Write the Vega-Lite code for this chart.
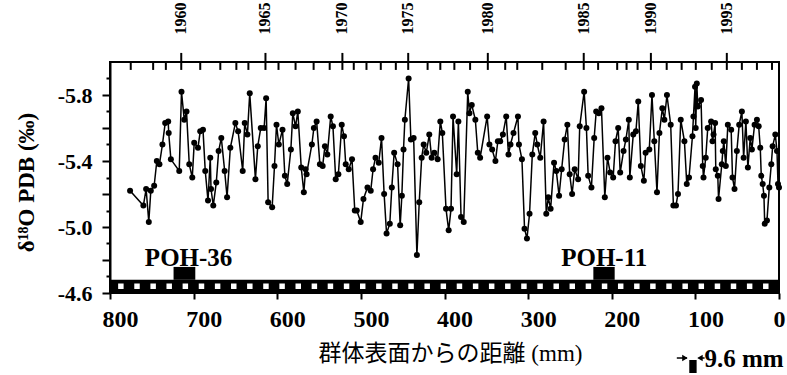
{
  "$schema": "https://vega.github.io/schema/vega-lite/v6.json",
  "width": 669,
  "height": 231,
  "autosize": {"type": "none"},
  "padding": {"left": 110, "top": 62, "right": 8, "bottom": 82},
  "background": "white",
  "config": {"view": {"stroke": "black", "strokeWidth": 2}, "font": "Liberation Serif"},
  "datasets": {
    "iso": [
      {"d": 776.0, "v": -5.22}, {"d": 760.1, "v": -5.13}, {"d": 756.8, "v": -5.23}, {"d": 753.6, "v": -5.03},
      {"d": 751.2, "v": -5.22}, {"d": 747.2, "v": -5.25}, {"d": 744.0, "v": -5.40}, {"d": 740.9, "v": -5.38},
      {"d": 737.3, "v": -5.50}, {"d": 734.0, "v": -5.63}, {"d": 730.4, "v": -5.64}, {"d": 729.8, "v": -5.57},
      {"d": 727.2, "v": -5.41}, {"d": 717.2, "v": -5.34}, {"d": 714.5, "v": -5.82}, {"d": 711.2, "v": -5.65},
      {"d": 708.5, "v": -5.70}, {"d": 705.2, "v": -5.38}, {"d": 701.6, "v": -5.30}, {"d": 699.3, "v": -5.51},
      {"d": 694.8, "v": -5.48}, {"d": 692.1, "v": -5.58}, {"d": 688.8, "v": -5.59}, {"d": 686.1, "v": -5.34},
      {"d": 682.8, "v": -5.16}, {"d": 680.1, "v": -5.42}, {"d": 679.2, "v": -5.23}, {"d": 676.5, "v": -5.13},
      {"d": 672.9, "v": -5.27}, {"d": 670.1, "v": -5.46}, {"d": 666.9, "v": -5.54}, {"d": 662.9, "v": -5.34},
      {"d": 660.0, "v": -5.18}, {"d": 656.1, "v": -5.48}, {"d": 650.1, "v": -5.63}, {"d": 646.8, "v": -5.58},
      {"d": 641.3, "v": -5.34}, {"d": 638.9, "v": -5.63}, {"d": 635.7, "v": -5.56}, {"d": 632.9, "v": -5.81},
      {"d": 626.1, "v": -5.29}, {"d": 623.3, "v": -5.49}, {"d": 619.7, "v": -5.60}, {"d": 615.7, "v": -5.60},
      {"d": 613.3, "v": -5.78}, {"d": 610.9, "v": -5.15}, {"d": 606.1, "v": -5.12}, {"d": 603.3, "v": -5.37},
      {"d": 600.9, "v": -5.62}, {"d": 598.1, "v": -5.50}, {"d": 593.7, "v": -5.59}, {"d": 590.9, "v": -5.31},
      {"d": 588.1, "v": -5.26}, {"d": 583.7, "v": -5.47}, {"d": 581.4, "v": -5.69}, {"d": 578.1, "v": -5.61},
      {"d": 575.4, "v": -5.70}, {"d": 571.3, "v": -5.36}, {"d": 568.2, "v": -5.21}, {"d": 566.1, "v": -5.35},
      {"d": 564.9, "v": -5.32}, {"d": 558.6, "v": -5.50}, {"d": 556.2, "v": -5.60}, {"d": 552.9, "v": -5.64},
      {"d": 549.0, "v": -5.38}, {"d": 545.7, "v": -5.37}, {"d": 543.0, "v": -5.49}, {"d": 540.1, "v": -5.44},
      {"d": 536.1, "v": -5.67}, {"d": 533.4, "v": -5.61}, {"d": 530.1, "v": -5.29}, {"d": 526.9, "v": -5.32},
      {"d": 522.9, "v": -5.62}, {"d": 520.2, "v": -5.55}, {"d": 518.1, "v": -5.38}, {"d": 514.5, "v": -5.35},
      {"d": 510.6, "v": -5.41}, {"d": 507.3, "v": -5.10}, {"d": 504.9, "v": -5.10}, {"d": 500.2, "v": -5.03},
      {"d": 496.9, "v": -5.17}, {"d": 492.1, "v": -5.24}, {"d": 488.2, "v": -5.22}, {"d": 485.4, "v": -5.35},
      {"d": 482.5, "v": -5.42}, {"d": 478.6, "v": -5.39}, {"d": 475.3, "v": -5.54}, {"d": 472.2, "v": -5.20},
      {"d": 469.3, "v": -4.96}, {"d": 465.4, "v": -5.02}, {"d": 463.0, "v": -5.24}, {"d": 460.2, "v": -5.45},
      {"d": 456.1, "v": -5.38}, {"d": 453.0, "v": -5.01}, {"d": 451.0, "v": -5.19}, {"d": 449.0, "v": -5.47},
      {"d": 447.4, "v": -5.65}, {"d": 442.9, "v": -5.90}, {"d": 440.2, "v": -5.53}, {"d": 436.9, "v": -5.54},
      {"d": 433.0, "v": -4.83}, {"d": 430.2, "v": -5.15}, {"d": 427.3, "v": -5.42}, {"d": 424.9, "v": -5.50},
      {"d": 421.8, "v": -5.45}, {"d": 418.2, "v": -5.56}, {"d": 415.4, "v": -5.42}, {"d": 412.2, "v": -5.45},
      {"d": 408.2, "v": -5.41}, {"d": 405.0, "v": -5.64}, {"d": 402.6, "v": -5.57}, {"d": 398.2, "v": -5.11},
      {"d": 395.0, "v": -4.98}, {"d": 392.2, "v": -5.11}, {"d": 389.8, "v": -5.67}, {"d": 385.4, "v": -5.32},
      {"d": 383.4, "v": -5.64}, {"d": 380.2, "v": -5.06}, {"d": 377.0, "v": -5.03}, {"d": 372.2, "v": -5.82},
      {"d": 370.2, "v": -5.69}, {"d": 367.4, "v": -5.74}, {"d": 363.1, "v": -5.65}, {"d": 360.2, "v": -5.45},
      {"d": 357.4, "v": -5.42}, {"d": 349.0, "v": -5.67}, {"d": 346.3, "v": -5.50}, {"d": 343.0, "v": -5.47},
      {"d": 339.1, "v": -5.40}, {"d": 336.2, "v": -5.52}, {"d": 333.4, "v": -5.52}, {"d": 330.2, "v": -5.56},
      {"d": 326.2, "v": -5.67}, {"d": 323.5, "v": -5.44}, {"d": 321.1, "v": -5.50}, {"d": 317.5, "v": -5.57},
      {"d": 312.2, "v": -5.67}, {"d": 311.0, "v": -5.50}, {"d": 307.4, "v": -5.41}, {"d": 304.3, "v": -4.99},
      {"d": 301.4, "v": -4.93}, {"d": 298.3, "v": -5.08}, {"d": 295.0, "v": -5.44}, {"d": 291.5, "v": -5.57},
      {"d": 289.1, "v": -5.50}, {"d": 285.5, "v": -5.42}, {"d": 281.5, "v": -5.64}, {"d": 278.3, "v": -5.08},
      {"d": 275.9, "v": -5.18}, {"d": 273.1, "v": -5.11}, {"d": 269.0, "v": -5.39}, {"d": 266.3, "v": -5.34},
      {"d": 263.0, "v": -5.19}, {"d": 259.9, "v": -5.35}, {"d": 256.3, "v": -5.53}, {"d": 253.1, "v": -5.62},
      {"d": 250.3, "v": -5.32}, {"d": 247.4, "v": -5.20}, {"d": 244.3, "v": -5.35}, {"d": 240.2, "v": -5.29},
      {"d": 238.3, "v": -5.61}, {"d": 233.0, "v": -5.82}, {"d": 230.3, "v": -5.60}, {"d": 228.2, "v": -5.31},
      {"d": 224.3, "v": -5.24}, {"d": 221.0, "v": -5.54}, {"d": 218.6, "v": -5.70}, {"d": 215.5, "v": -5.69},
      {"d": 212.3, "v": -5.72}, {"d": 208.3, "v": -5.18}, {"d": 205.1, "v": -5.42}, {"d": 201.9, "v": -5.33},
      {"d": 198.3, "v": -5.30}, {"d": 195.5, "v": -5.52}, {"d": 192.3, "v": -5.60}, {"d": 189.9, "v": -5.33},
      {"d": 185.9, "v": -5.46}, {"d": 183.1, "v": -5.53}, {"d": 179.6, "v": -5.65}, {"d": 178.4, "v": -5.30},
      {"d": 174.3, "v": -5.56}, {"d": 171.1, "v": -5.58}, {"d": 168.3, "v": -5.76}, {"d": 165.2, "v": -5.37},
      {"d": 161.6, "v": -5.28}, {"d": 159.5, "v": -5.45}, {"d": 155.1, "v": -5.47}, {"d": 151.9, "v": -5.80},
      {"d": 149.1, "v": -5.52}, {"d": 145.9, "v": -5.21}, {"d": 143.0, "v": -5.57}, {"d": 139.5, "v": -5.72},
      {"d": 137.1, "v": -5.65}, {"d": 134.0, "v": -5.80}, {"d": 129.5, "v": -5.62}, {"d": 126.3, "v": -5.13},
      {"d": 123.2, "v": -5.13}, {"d": 120.8, "v": -5.20}, {"d": 117.5, "v": -5.65}, {"d": 113.1, "v": -5.52},
      {"d": 110.3, "v": -5.26}, {"d": 107.6, "v": -5.30}, {"d": 103.5, "v": -5.55}, {"d": 102.3, "v": -5.67},
      {"d": 100.4, "v": -5.85}, {"d": 99.6, "v": -5.60}, {"d": 98.3, "v": -5.87}, {"d": 97.1, "v": -5.73},
      {"d": 93.2, "v": -5.77}, {"d": 91.2, "v": -5.37}, {"d": 90.3, "v": -5.30}, {"d": 87.6, "v": -5.42},
      {"d": 85.2, "v": -5.60}, {"d": 81.2, "v": -5.64}, {"d": 79.5, "v": -5.52}, {"d": 78.3, "v": -5.56},
      {"d": 76.4, "v": -5.63}, {"d": 75.6, "v": -5.35}, {"d": 73.2, "v": -5.31}, {"d": 72.3, "v": -5.17},
      {"d": 68.4, "v": -5.38}, {"d": 67.2, "v": -5.46}, {"d": 66.0, "v": -5.52}, {"d": 63.6, "v": -5.37},
      {"d": 61.2, "v": -5.62}, {"d": 57.2, "v": -5.59}, {"d": 55.6, "v": -5.30}, {"d": 53.2, "v": -5.23},
      {"d": 50.4, "v": -5.46}, {"d": 47.6, "v": -5.62}, {"d": 44.4, "v": -5.70}, {"d": 42.3, "v": -5.42},
      {"d": 39.6, "v": -5.64}, {"d": 37.2, "v": -5.36}, {"d": 34.4, "v": -5.54}, {"d": 32.4, "v": -5.47},
      {"d": 29.2, "v": -5.62}, {"d": 26.4, "v": -5.65}, {"d": 24.3, "v": -5.61}, {"d": 22.4, "v": -5.48},
      {"d": 21.2, "v": -5.31}, {"d": 19.5, "v": -5.26}, {"d": 18.0, "v": -5.19}, {"d": 17.1, "v": -5.02},
      {"d": 14.4, "v": -5.04}, {"d": 11.6, "v": -5.24}, {"d": 9.2, "v": -5.38}, {"d": 7.6, "v": -5.49},
      {"d": 4.4, "v": -5.56}, {"d": 2.4, "v": -5.46}, {"d": 1.2, "v": -5.26}, {"d": 0.0, "v": -5.24}
    ],
    "years": [
      {"year": 1957, "d": 775.2}, {"year": 1958, "d": 748.4}, {"year": 1959, "d": 733.2}, {"year": 1960, "d": 714.8},
      {"year": 1961, "d": 692.1}, {"year": 1962, "d": 668.1}, {"year": 1963, "d": 648.9}, {"year": 1964, "d": 634.5},
      {"year": 1965, "d": 614.1}, {"year": 1966, "d": 598.5}, {"year": 1967, "d": 578.1}, {"year": 1968, "d": 556.5},
      {"year": 1969, "d": 537.3}, {"year": 1970, "d": 522.1}, {"year": 1971, "d": 508.5}, {"year": 1972, "d": 493.3},
      {"year": 1973, "d": 476.2}, {"year": 1974, "d": 458.2}, {"year": 1975, "d": 443.4}, {"year": 1976, "d": 420.2},
      {"year": 1977, "d": 405.0}, {"year": 1978, "d": 388.2}, {"year": 1979, "d": 369.4}, {"year": 1980, "d": 348.2},
      {"year": 1981, "d": 327.4}, {"year": 1982, "d": 313.0}, {"year": 1983, "d": 283.1}, {"year": 1984, "d": 255.1},
      {"year": 1985, "d": 233.5}, {"year": 1986, "d": 216.3}, {"year": 1987, "d": 193.5}, {"year": 1988, "d": 182.3},
      {"year": 1989, "d": 169.1}, {"year": 1990, "d": 153.2}, {"year": 1991, "d": 134.3}, {"year": 1992, "d": 116.4},
      {"year": 1993, "d": 99.5}, {"year": 1994, "d": 80.4}, {"year": 1995, "d": 62.4}, {"year": 1996, "d": 44.4},
      {"year": 1997, "d": 26.4}, {"year": 1998, "d": 8.4}
    ],
    "bands": [
      {"c": 787.0}, {"c": 767.7}, {"c": 748.4}, {"c": 729.2}, {"c": 709.9}, {"c": 690.6}, {"c": 671.3}, {"c": 652.0},
      {"c": 632.8}, {"c": 613.5}, {"c": 594.2}, {"c": 574.9}, {"c": 555.6}, {"c": 536.4}, {"c": 517.1}, {"c": 497.8},
      {"c": 478.5}, {"c": 459.2}, {"c": 440.0}, {"c": 420.7}, {"c": 401.4}, {"c": 382.1}, {"c": 362.8}, {"c": 343.6},
      {"c": 324.3}, {"c": 305.0}, {"c": 285.7}, {"c": 266.4}, {"c": 247.2}, {"c": 227.9}, {"c": 208.6}, {"c": 189.3},
      {"c": 170.0}, {"c": 150.8}, {"c": 131.5}, {"c": 112.2}, {"c": 92.9}, {"c": 73.6}, {"c": 54.4}, {"c": 35.1},
      {"c": 15.8}
    ],
    "samples": [
      {"name": "POH-36", "from": 724.0, "to": 698.0, "mid": 706.0},
      {"name": "POH-11", "from": 222.0, "to": 196.5, "mid": 209.0}
    ]
  },
  "layer": [
    {
      "data": {"values": [{}]},
      "mark": {"type": "rect", "color": "black"},
      "encoding": {
        "x": {"datum": 800, "type": "quantitative", "scale": {"domain": [0, 800], "reverse": true, "nice": false, "zero": false}},
        "x2": {"datum": 0},
        "y": {"datum": -4.6, "type": "quantitative", "scale": {"domain": [-6.0, -4.6], "reverse": true, "nice": false, "zero": false}},
        "y2": {"datum": -4.68}
      }
    },
    {
      "data": {"name": "bands"},
      "mark": {"type": "point", "shape": "square", "filled": true, "color": "white", "size": 30, "opacity": 1, "strokeWidth": 0},
      "encoding": {
        "x": {"field": "c", "type": "quantitative"},
        "y": {"datum": -4.641, "type": "quantitative"}
      }
    },
    {
      "data": {"name": "samples"},
      "mark": {"type": "rect", "color": "black"},
      "encoding": {
        "x": {"field": "from", "type": "quantitative"},
        "x2": {"field": "to"},
        "y": {"datum": -4.68, "type": "quantitative"},
        "y2": {"datum": -4.758}
      }
    },
    {
      "data": {"name": "samples"},
      "mark": {"type": "text", "font": "Liberation Serif", "fontWeight": "bold", "fontSize": 25, "align": "center", "baseline": "alphabetic", "color": "black"},
      "encoding": {
        "x": {"field": "mid", "type": "quantitative"},
        "y": {"datum": -4.764, "type": "quantitative"},
        "text": {"field": "name", "type": "nominal"}
      }
    },
    {
      "data": {"name": "iso"},
      "mark": {"type": "line", "color": "black", "strokeWidth": 1.5},
      "encoding": {
        "x": {
          "field": "d", "type": "quantitative",
          "axis": {
            "orient": "bottom",
            "values": [0, 100, 200, 300, 400, 500, 600, 700, 800],
            "tickCount": 20,
            "grid": false,
            "domain": false,
            "tickColor": "black", "tickWidth": 2, "tickSize": 6,
            "labelFont": "Liberation Serif", "labelFontWeight": "bold", "labelFontSize": 24, "labelColor": "black",
            "labelPadding": 8, "labelFlush": false, "labelOverlap": false,
            "labelOffset": {"condition": {"test": "datum.value == 0", "value": 0}, "value": 10},
            "title": "群体表面からの距離 (mm)",
            "titleFont": "Liberation Serif, Noto Sans CJK JP",
            "titleFontWeight": "normal", "titleFontSize": 23, "titleColor": "black",
            "titleX": 340, "titleY": 67, "titleBaseline": "alphabetic", "titleAlign": "center"
          }
        },
        "y": {
          "field": "v", "type": "quantitative",
          "axis": {
            "orient": "left",
            "values": [-5.9, -5.8, -5.7, -5.6, -5.5, -5.4, -5.3, -5.2, -5.1, -5.0, -4.9, -4.8, -4.7, -4.6],
            "tickCount": 30,
            "grid": false,
            "labelOverlap": false,
            "domainColor": "black", "domainWidth": 2,
            "tickColor": "black", "tickWidth": 2,
            "tickSize": {"condition": {"test": "abs(round(datum.value*10)) % 2 == 0", "value": 8}, "value": 4},
            "labelExpr": "abs(round(datum.value*10)) % 4 == 2 ? '-' + format(abs(datum.value), '.1f') : ''",
            "labelFont": "Liberation Serif", "labelFontWeight": "bold", "labelFontSize": 22, "labelColor": "black",
            "labelPadding": 10,
            "title": "δ¹⁸O PDB (‰)",
            "titleFont": "Liberation Serif", "titleFontWeight": "bold", "titleFontSize": 23, "titleColor": "black",
            "titleX": -77, "titleY": 120, "titleAngle": 270, "titleBaseline": "alphabetic", "titleAlign": "center"
          }
        }
      }
    },
    {
      "data": {"name": "iso"},
      "mark": {"type": "circle", "color": "black", "size": 36, "opacity": 1},
      "encoding": {
        "x": {"field": "d", "type": "quantitative"},
        "y": {"field": "v", "type": "quantitative"}
      }
    },
    {
      "data": {"name": "years"},
      "mark": {"type": "rule", "color": "black", "strokeWidth": 2},
      "encoding": {
        "x": {"field": "d", "type": "quantitative"},
        "y": {"datum": -6.0, "type": "quantitative"},
        "y2": {"datum": -5.952}
      }
    },
    {
      "data": {"name": "years"},
      "transform": [{"filter": "datum.year % 5 == 0"}],
      "mark": {"type": "rule", "color": "black", "strokeWidth": 2},
      "encoding": {
        "x": {"field": "d", "type": "quantitative"},
        "y": {"datum": -6.055, "type": "quantitative"},
        "y2": {"datum": -6.0}
      }
    },
    {
      "data": {"name": "years"},
      "transform": [{"filter": "datum.year % 5 == 0"}],
      "mark": {"type": "text", "angle": 270, "align": "left", "baseline": "middle", "font": "Liberation Serif", "fontWeight": "bold", "fontSize": 16, "color": "black"},
      "encoding": {
        "x": {"field": "d", "type": "quantitative"},
        "y": {"datum": -6.167, "type": "quantitative"},
        "text": {"field": "year", "type": "nominal"}
      }
    },
    {
      "data": {"values": [{}]},
      "mark": {"type": "rect", "color": "black"},
      "encoding": {
        "x": {"datum": 107.3, "type": "quantitative"},
        "x2": {"datum": 98.5},
        "y": {"datum": -4.194, "type": "quantitative"},
        "y2": {"datum": -4.115}
      }
    },
    {
      "data": {"values": [{}]},
      "mark": {"type": "rule", "color": "black", "strokeWidth": 1.5},
      "encoding": {
        "x": {"datum": 122.2, "type": "quantitative"},
        "x2": {"datum": 110.0},
        "y": {"datum": -4.206, "type": "quantitative"}
      }
    },
    {
      "data": {"values": [{}]},
      "mark": {"type": "rule", "color": "black", "strokeWidth": 1.5},
      "encoding": {
        "x": {"datum": 96.0, "type": "quantitative"},
        "x2": {"datum": 89.0},
        "y": {"datum": -4.206, "type": "quantitative"}
      }
    },
    {
      "data": {"values": [{}]},
      "mark": {"type": "point", "shape": "triangle-right", "filled": true, "color": "black", "size": 40, "opacity": 1},
      "encoding": {
        "x": {"datum": 112.5, "type": "quantitative"},
        "y": {"datum": -4.206, "type": "quantitative"}
      }
    },
    {
      "data": {"values": [{}]},
      "mark": {"type": "point", "shape": "triangle-left", "filled": true, "color": "black", "size": 40, "opacity": 1},
      "encoding": {
        "x": {"datum": 94.5, "type": "quantitative"},
        "y": {"datum": -4.206, "type": "quantitative"}
      }
    },
    {
      "data": {"values": [{}]},
      "mark": {"type": "text", "text": "9.6 mm", "font": "Liberation Serif", "fontWeight": "bold", "fontSize": 25, "align": "left", "baseline": "alphabetic", "color": "black"},
      "encoding": {
        "x": {"datum": 89.2, "type": "quantitative"},
        "y": {"datum": -4.152, "type": "quantitative"}
      }
    }
  ]
}
